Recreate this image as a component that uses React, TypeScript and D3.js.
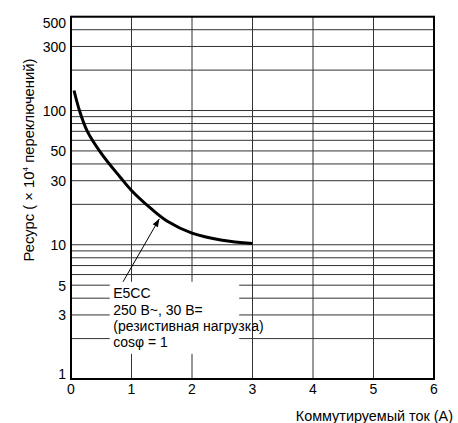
import { useEffect, useRef } from 'react';
import * as d3 from 'd3';

// curve: switched current (A) vs life (x10^4 operations)
const currentA = [0.05, 0.14, 0.27, 0.5, 0.81, 1.0, 1.33, 1.6, 2.0, 2.5, 3.0];
const lifeOps = [141, 100, 70, 48, 32, 25.4, 18.5, 14.9, 12.2, 10.8, 10.2];

const xTicks = [0, 1, 2, 3, 4, 5, 6];
const yGrid = [1, 2, 3, 4, 5, 6, 7, 8, 9, 10, 20, 30, 40, 50, 60, 70, 80, 90, 100, 200, 300, 400, 500];
const yLabels = [1, 3, 5, 10, 30, 50, 100, 300, 500];

const noteLines = ['E5CC', '250 B~, 30 B=', '(резистивная нагрузка)', 'cosφ = 1'];
// note box and arrow, in data units
const noteBox = { x0: 0.64, x1: 2.78, y0: 5.3, y1: 1.54 };
const arrowFrom = [0.86, 5.3];
const arrowTo = [1.46, 15.6];

const W = 458;
const H = 423;
const FONT = '"Liberation Sans", Arial, sans-serif';

const App = () => {
  const svgRef = useRef<SVGSVGElement>(null);

  useEffect(() => {
    const root = d3.select(svgRef.current);
    root.selectAll('*').remove();

    const left = 71;
    const right = 434;
    const top = 16.7;
    const bottom = 379;

    const x = d3.scaleLinear().domain([0, 6]).range([left, right]);
    const y = d3.scaleLog().domain([1, 500]).range([bottom, top]);

    // title, mostly above the visible area as in the source picture
    root
      .append('text')
      .attr('x', 2)
      .attr('y', -5)
      .style('font-family', FONT)
      .style('font-size', '26px')
      .style('font-weight', 'bold')
      .text('Ресурс реле (справочно)');

    // grid
    const grid = root.append('g').attr('stroke', '#333').attr('stroke-width', 1);
    grid
      .selectAll('line.h')
      .data(yGrid)
      .enter()
      .append('line')
      .attr('x1', left)
      .attr('x2', right)
      .attr('y1', d => y(d))
      .attr('y2', d => y(d));
    grid
      .selectAll('line.v')
      .data(xTicks.slice(1, -1))
      .enter()
      .append('line')
      .attr('x1', d => x(d))
      .attr('x2', d => x(d))
      .attr('y1', top)
      .attr('y2', bottom);

    // frame
    root
      .append('rect')
      .attr('x', left)
      .attr('y', top)
      .attr('width', right - left)
      .attr('height', bottom - top)
      .attr('fill', 'none')
      .attr('stroke', '#000')
      .attr('stroke-width', 2);

    // tick labels (end labels pulled inside the frame)
    const labelDy = (d: number) => (d === 500 ? 11 : d === 1 ? 0 : 5.5);
    root
      .append('g')
      .selectAll('text')
      .data(yLabels)
      .enter()
      .append('text')
      .attr('x', left - 5)
      .attr('y', d => y(d) + labelDy(d))
      .attr('text-anchor', 'end')
      .style('font-family', FONT)
      .style('font-size', '14px')
      .text(d => d);

    root
      .append('g')
      .selectAll('text')
      .data(xTicks)
      .enter()
      .append('text')
      .attr('x', d => x(d))
      .attr('y', bottom + 15)
      .attr('text-anchor', 'middle')
      .style('font-family', FONT)
      .style('font-size', '14px')
      .text(d => d);

    // axis titles
    root
      .append('text')
      .attr('x', 453)
      .attr('y', 421)
      .attr('text-anchor', 'end')
      .style('font-family', FONT)
      .style('font-size', '14.4px')
      .text('Коммутируемый ток (А)');

    const yt = root
      .append('text')
      .attr('transform', 'translate(34,160) rotate(-90)')
      .attr('text-anchor', 'middle')
      .style('font-family', FONT)
      .style('font-size', '14.8px');
    yt.append('tspan').text('Ресурс ( × 10');
    yt.append('tspan').attr('dy', -6).style('font-size', '8px').text('4');
    yt.append('tspan').attr('dy', 6).text(' переключений)');

    // life curve
    const line = d3
      .line<number>()
      .x((d, i) => x(currentA[i]))
      .y(d => y(d))
      .curve(d3.curveCatmullRom.alpha(0.5));

    root
      .append('path')
      .attr('d', line(lifeOps))
      .attr('fill', 'none')
      .attr('stroke', '#000')
      .attr('stroke-width', 3);

    // note box (white, hides the grid)
    root
      .append('rect')
      .attr('x', x(noteBox.x0))
      .attr('y', y(noteBox.y0))
      .attr('width', x(noteBox.x1) - x(noteBox.x0))
      .attr('height', y(noteBox.y1) - y(noteBox.y0))
      .attr('fill', '#fff');

    noteLines.forEach((t, i) => {
      root
        .append('text')
        .attr('x', x(noteBox.x0) + 3.5)
        .attr('y', y(noteBox.y0) + 16.5 + i * 16.4)
        .style('font-family', FONT)
        .style('font-size', '14px')
        .text(t);
    });

    // arrow
    const ax0 = x(arrowFrom[0]);
    const ay0 = y(arrowFrom[1]);
    const ax1 = x(arrowTo[0]);
    const ay1 = y(arrowTo[1]);
    root
      .append('line')
      .attr('x1', ax0)
      .attr('y1', ay0)
      .attr('x2', ax1)
      .attr('y2', ay1)
      .attr('stroke', '#000')
      .attr('stroke-width', 1);

    const ang = Math.atan2(ay1 - ay0, ax1 - ax0);
    const len = 8;
    const wid = 3;
    const bx = ax1 - len * Math.cos(ang);
    const by = ay1 - len * Math.sin(ang);
    root
      .append('path')
      .attr(
        'd',
        `M${ax1},${ay1}L${bx + wid * Math.sin(ang)},${by - wid * Math.cos(ang)}L${bx - wid * Math.sin(ang)},${by + wid * Math.cos(ang)}Z`
      )
      .attr('fill', '#000');
  }, []);

  return (
    <svg
      ref={svgRef}
      width={W}
      height={H}
      style={{ position: 'absolute', left: 0, top: 0, background: '#fff' }}
    ></svg>
  );
};

export default App;
